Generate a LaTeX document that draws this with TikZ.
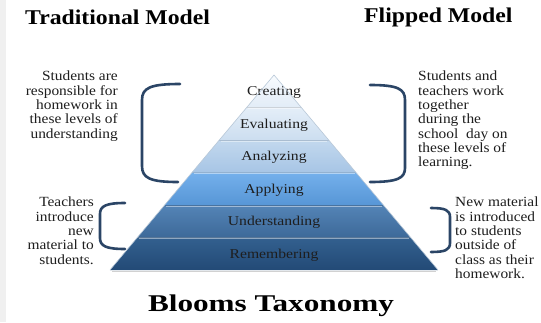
\documentclass[tikz,border=0pt]{standalone}
\usepackage{fontspec}
\setmainfont{Liberation Serif}
\newfontfamily\titlefont[FakeStretch=1.13]{Liberation Serif}
\newfontfamily\bigfont[FakeStretch=1.3]{Liberation Serif}
\newfontfamily\notefont[FakeStretch=1.1]{Liberation Serif}
\newfontfamily\labelfont[FakeStretch=1.16]{Liberation Serif}
\usetikzlibrary{positioning}

\definecolor{bracketblue}{HTML}{2B4566}
\definecolor{textdark}{HTML}{1E1E1E}
\definecolor{pyredge}{HTML}{B8C8D8}

\tikzset{
    title/.style={font=\titlefont\fontsize{21}{24}\selectfont\bfseries, text=black, inner sep=0pt},
    note/.style={font=\notefont\fontsize{14}{14.3}\selectfont, text=textdark, inner sep=0pt},
    layerlabel/.style={font=\labelfont\fontsize{13.5}{15}\selectfont, text=textdark, inner sep=0pt},
    brace/.style={draw=bracketblue, line width=2.6pt, line cap=round}
}

\begin{document}
\begin{tikzpicture}[x=1pt, y=-1pt]
    \useasboundingbox (0,0) rectangle (541,322);
    \fill[white] (0,0) rectangle (541,322);
    \fill[gray!12] (0,0) rectangle (6,322);

    % titles
    \node [title, anchor=west] (trad) at (25,17) {Traditional Model};
    \node [title, anchor=west] (flip) at (364,17) {Flipped Model};
    \node [title, font=\bigfont\fontsize{24}{28}\selectfont\bfseries] (bloom) at (271,306) {Blooms Taxonomy};

    % pyramid layers, top to bottom
    \foreach \i/\name/\lbl/\ctop/\cbot in {
            0/cre/Creating/F8FBFE/E2ECF7,
            1/eva/Evaluating/E4EEF8/CCDEF0,
            2/ana/Analyzing/C2D8EE/A7C5E5,
            3/app/Applying/74B0EC/5796D6,
            4/und/Understanding/5484B6/3D6999,
            5/rem/Remembering/33608F/234A76} {
        \pgfmathsetmacro{\yt}{75+32.5*\i}
        \pgfmathsetmacro{\yb}{\yt+32.5}
        \pgfmathsetmacro{\wt}{0.841*(\yt-75)}
        \pgfmathsetmacro{\wb}{0.841*(\yb-75)}
        \definecolor{ctop}{HTML}{\ctop}
        \definecolor{cbot}{HTML}{\cbot}
        \shade [top color=ctop, bottom color=cbot]
            (274-\wt, \yt) -- (274+\wt, \yt) -- (274+\wb, \yb) -- (274-\wb, \yb) -- cycle;
        \ifnum\i>0
            \draw [white, opacity=0.45, line width=1.2pt]
                (274-\wt+1.5, \yt+1.2) -- (274+\wt-1.5, \yt+1.2);
            \draw [black, opacity=0.12, line width=0.6pt]
                (274-\wt, \yt) -- (274+\wt, \yt);
        \fi
        \node [layerlabel] (l_\name) at (274, \yt+17.5) {\lbl};
    }
    \draw [pyredge, line width=0.6pt] (110,270) -- (274,75) -- (438,270);
    \draw [black, opacity=0.18, line width=1pt] (112,271) -- (436,271);

    % notes
    \node [note, align=right, anchor=north east] (hwlevels) at (118,71)
        {Students are\\responsible for\\homework in\\these levels of\\understanding};
    \node [note, align=left, anchor=north west] (together) at (418,71)
        {Students and\\teachers work\\together\\during the\\school\ \ day on\\these levels of\\learning.};
    \node [note, align=right, anchor=north east] (introduce) at (94,197)
        {Teachers\\introduce\\new\\material to\\students.};
    \node [note, align=left, anchor=north west] (outside) at (455,197)
        {New material\\is introduced\\to students\\outside of\\class as their\\homework.};

    % brackets
    \draw [brace] (180,84) .. controls (150,84) and (142,88) .. (142,100)
        -- (142,166) .. controls (142,178) and (150,182) .. (178,182);
    \draw [brace] (370,85) .. controls (398,85) and (405,89) .. (405,100)
        -- (405,168) .. controls (405,178) and (398,182) .. (370,182);
    \draw [brace] (125,203) .. controls (106,203) and (100,206) .. (100,214)
        -- (100,238) .. controls (100,246) and (106,249) .. (125,249);
    \draw [brace] (431,208) .. controls (445,208) and (450,210) .. (450,217)
        -- (450,243) .. controls (450,250) and (445,252) .. (431,252);
\end{tikzpicture}
\end{document}
